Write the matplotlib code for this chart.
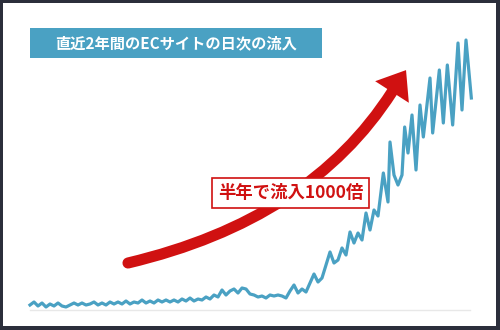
import numpy as np
import matplotlib
matplotlib.use("Agg")
import matplotlib.pyplot as plt
from matplotlib.patches import Rectangle, PathPatch, Polygon
from matplotlib.path import Path
from matplotlib.transforms import Affine2D

plt.rcParams['font.family'] = ['Noto Sans CJK JP', 'DejaVu Sans']

title = "直近2年間のECサイトの日次の流入"
label = "半年で流入1000倍"

# first ~14 months, every 6 days
days_early = list(range(0, 420, 6))
visits_early = [5, 8, 4, 7, 3, 6, 4, 7, 4, 3,
                5, 7, 5, 7, 5, 6, 8, 5, 7, 5,
                8, 6, 8, 6, 9, 6, 8, 7, 10, 7,
                9, 7, 10, 8, 10, 8, 10, 8, 11, 9,
                12, 9, 11, 10, 13, 11, 15, 13, 20, 15,
                19, 21, 17, 22, 21, 16, 15, 13, 14, 12,
                15, 14, 15, 14, 12, 19, 25, 17, 21, 18]
# last part, growth phase
days_late = [420, 426, 432, 438, 444, 450, 456, 462, 468, 474,
             480, 486, 492, 498, 504, 510, 516, 522, 530, 537,
             540, 546, 552, 558, 562, 567, 573, 579, 585, 590,
             600, 604, 614, 620, 626, 634, 642, 648, 654, 662]
visits_late = [27, 36, 28, 32, 45, 58, 47, 50, 62, 55,
               78, 67, 77, 70, 97, 80, 100, 94, 137, 108,
               168, 135, 125, 135, 183, 157, 195, 140, 205, 173,
               232, 177, 240, 187, 245, 185, 267, 200, 270, 212]

days = days_early + days_late
visits = visits_early + visits_late

blue = '#4aa1c3'
red = '#d01111'

fig = plt.figure(figsize=(5, 3.3), dpi=100)
# dark frame
fig.add_artist(Rectangle((0, 0), 1, 1, transform=fig.transFigure, fc='#2b2e3b', ec='none', zorder=-10))
fig.add_artist(Rectangle((3/500, 4/330), 493/500, 323/330, transform=fig.transFigure,
                         fc='white', ec='none', zorder=-9))

ax = fig.add_axes([30/500, 20/330, 440/500, 280/330])
ax.set_facecolor('none')
ax.plot(days, visits, color=blue, lw=2.3, clip_on=False)
ax.set_xlim(0, 660)
ax.set_ylim(0, 280)
for s in ['top', 'right', 'left']:
    ax.spines[s].set_visible(False)
ax.spines['bottom'].set_color('#e8e8e8')
ax.spines['bottom'].set_linewidth(1)
ax.set_xticks([])
ax.set_yticks([])

# title box
fig.add_artist(Rectangle((30/500, 1-58/330), 292/500, 30/330, transform=fig.transFigure,
                         fc=blue, ec='none', zorder=2))
fig.text(176/500, 1-43.5/330, title, ha='center', va='center', color='white',
         fontsize=11, fontweight='bold', zorder=3)

# red curved arrow (image pixel coords)
pix = Affine2D().scale(1/500, -1/330).translate(0, 1) + fig.transFigure
A = np.array([128, 263])
C = np.array([310, 220])
B = np.array([392, 92])
shaft = PathPatch(Path([A, C, B], [Path.MOVETO, Path.CURVE3, Path.CURVE3]),
                  transform=pix, fc='none', ec=red, lw=8, capstyle='round', zorder=3)
fig.add_artist(shaft)
d = (B - C) / np.hypot(*(B - C))
n = np.array([-d[1], d[0]])
head = Polygon([B + d*26, B + n*20, B - n*20], closed=True, transform=pix,
               fc=red, ec='none', zorder=3)
fig.add_artist(head)

fig.text(290.5/500, 1-193/330, label, ha='center', va='center', color=red,
         fontsize=12.5, fontweight='bold', zorder=5,
         bbox=dict(boxstyle='square,pad=0.35', fc='white', ec=red, lw=1.2))

fig.savefig('out.png', dpi=100)
